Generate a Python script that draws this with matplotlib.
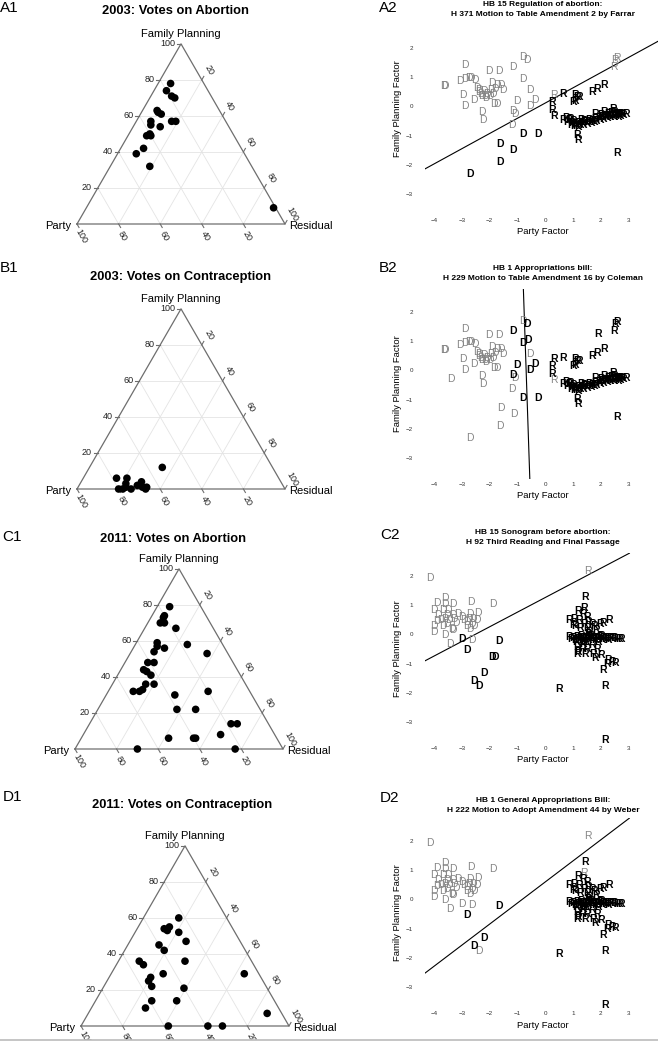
"""Ternary vote decomposition (left) and party / family-planning factor maps (right)."""
import numpy as np
import matplotlib
matplotlib.use("Agg")
import matplotlib.pyplot as plt
from matplotlib.lines import Line2D

plt.rcParams["font.family"] = ["Liberation Sans", "DejaVu Sans"]

FIG_W, FIG_H = 658, 1049
INK = "black"
GREY = "#858585"

# ---------------- ternary panels: (family planning, party, residual) in % ----------------
a1_fp    = [78, 74, 71, 70, 63, 62, 61, 57, 57, 57, 55, 54, 50, 49, 49, 42, 39, 32, 9]
a1_party = [16, 20, 19, 18, 30, 30, 29, 26, 24, 36, 37, 33, 40, 42, 40, 47, 52, 49, 1]
a1_res   = [6, 6, 10, 12, 7, 8, 10, 17, 19, 7, 8, 13, 10, 9, 11, 11, 9, 19, 90]

b1_fp    = [12, 6, 6, 3, 0, 0, 1, 0, 2, 4, 1, 0, 1]
b1_party = [53, 78, 73, 75, 80, 78, 76, 74, 70, 67, 68, 67, 66]
b1_res   = [35, 16, 21, 22, 20, 22, 23, 26, 28, 29, 31, 33, 33]

c1_fp    = [79, 74, 73, 70, 70, 67, 59, 57, 54, 56, 58, 53, 48, 48, 44, 43, 41,
            36, 36, 33, 32, 32, 30, 32, 22, 22, 14, 14, 8, 6, 6, 6, 0, 0]
c1_party = [15, 20, 21, 24, 22, 18, 31, 32, 35, 29, 17, 10, 38, 41, 45, 44, 43,
            48, 44, 51, 53, 56, 37, 20, 40, 31, 18, 15, 26, 52, 40, 39, 70, 23]
c1_res   = [6, 6, 6, 6, 8, 15, 10, 11, 11, 15, 25, 37, 14, 11, 11, 13, 16,
            16, 20, 16, 15, 12, 33, 48, 38, 47, 68, 71, 66, 42, 54, 55, 30, 77]

d1_fp    = [60, 55, 54, 53, 52, 47, 45, 42, 36, 36, 34, 29, 27, 25, 22, 21, 14, 14,
            10, 29, 7, 0, 0, 0]
d1_party = [23, 30, 33, 32, 27, 26, 40, 39, 32, 54, 53, 46, 53, 55, 55, 40, 59, 47,
            64, 7, 7, 58, 39, 32]
d1_res   = [17, 15, 13, 15, 21, 27, 15, 19, 32, 10, 13, 25, 20, 20, 23, 39, 27, 39,
            26, 64, 86, 42, 61, 68]

TERN_TICKS = [20, 40, 60, 80, 100]

# ---------------- 2003 legislators (party factor, family planning factor) ----------------
d03_x = [-2.89, -2.01, -1.65, -1.16, -0.79, -0.64, -0.79, -3.65, -3.60, -3.07,
         -2.89, -2.74, -2.68, -2.52, -1.93, -1.75, -1.61, -2.47, -2.40, -2.21,
         -2.09, -1.97, -1.89, -1.51, -2.28, -2.17, -2.98, -2.57, -2.89, -2.29,
         -2.23, -1.85, -1.03, -0.55, -0.38, -0.55, -1.15, -1.09, -1.21, -0.81,
         -0.25, -1.61, -1.14, -1.64, -2.71, -2.33, -2.12, -2.00, -1.80, -1.74,
         -2.40, -0.62, -3.41]
d03_y = [1.43, 1.22, 1.22, 1.35, 1.69, 1.58, 0.94, 0.71, 0.71, 0.86,
         0.94, 0.97, 0.96, 0.92, 0.80, 0.74, 0.74, 0.63, 0.55, 0.52,
         0.44, 0.55, 0.42, 0.55, 0.34, 0.37, 0.40, 0.21, 0.03, -0.20,
         -0.45, 0.09, 0.17, 0.55, 0.21, 0.03, -0.15, -0.26, -0.65, -0.95,
         -0.93, -1.29, -1.50, -1.92, -2.30, 0.42, 0.30, 0.36, 0.58, 0.09,
         0.48, 1.05, -0.29]
# k = voted with the bloc (black), g = grey, - = not shown
a2_d_col = "ggggggggggggggggggggggggggggggggggggggg" "kkkkkk" "gggggg" "--"
b2_d_col = "gggkgkk" "ggggggggggggggggggggggggg" "kgkkkggkk" "gggggggggg" "kg"

r03_x = [0.33, 0.66, 0.24, 0.24, 0.33, 1.08, 1.15, 1.24, 1.02, 1.08,
         1.69, 1.87, 2.14, 1.15, 1.17, 2.59, 2.51, 2.60, 2.49, 1.92]
r03_y = [0.39, 0.42, 0.16, -0.12, -0.33, 0.39, 0.33, 0.33, 0.16, 0.19,
         0.50, 0.59, 0.73, -0.98, -1.15, -1.61, 1.60, 1.66, 1.34, 1.25]
a2_r_col = "gkkkkkkkkkkkkkkkggg-"
b2_r_col = "kkkkgkkkkkkkkkkkkkkk"
# dense block of Republicans, black in both 2003 panels
r03_band_x = [0.64, 0.76, 0.88, 0.97, 1.08, 1.20, 1.33, 1.45, 1.56, 1.69, 1.81, 1.93,
              2.05, 2.17, 2.29, 2.41, 2.53, 2.65, 2.93, 1.81, 2.11, 2.44, 2.50, 2.75,
              0.90, 1.00, 1.05, 1.12, 1.18, 1.25, 1.30, 1.38, 1.50, 1.60, 1.65, 1.75,
              1.85, 1.98, 2.02, 2.10, 2.22, 2.26, 2.35, 2.38, 2.48, 2.58, 2.62, 2.70,
              2.80, 0.80, 0.95, 1.42]
r03_band_y = [-0.47, -0.41, -0.47, -0.56, -0.60, -0.58, -0.56, -0.55, -0.52, -0.49, -0.44, -0.41,
              -0.37, -0.35, -0.33, -0.32, -0.31, -0.29, -0.26, -0.26, -0.18, -0.09, -0.20, -0.25,
              -0.42, -0.50, -0.68, -0.66, -0.70, -0.64, -0.48, -0.62, -0.60, -0.45, -0.58, -0.52,
              -0.50, -0.48, -0.30, -0.42, -0.40, -0.25, -0.38, -0.22, -0.36, -0.26, -0.36, -0.33,
              -0.30, -0.55, -0.63, -0.50]

# ---------------- 2011 legislators ----------------
d11_x = [-4.16, -3.61, -3.89, -3.61, -3.34, -4.01, -3.86, -3.68, -3.49, -3.53,
         -3.61, -3.34, -3.13, -3.29, -3.01, -2.93, -2.83, -2.71, -2.74, -2.59,
         -2.41, -2.47, -2.65, -2.71, -2.83, -4.01, -4.01, -3.70, -3.55, -3.37,
         -3.31, -3.61, -3.43, -2.65, -2.66, -1.89, -3.74, -3.46, -3.01, -2.83,
         -1.67, -1.91, -1.79, -2.21, -2.56, -2.39, -3.20, -3.90, -2.55]
d11_y = [1.92, 1.26, 1.08, 1.03, 1.03, 0.83, 0.66, 0.85, 0.85, 0.66,
         0.54, 0.66, 0.69, 0.54, 0.60, 0.51, 0.43, 0.69, 0.53, 0.54,
         0.74, 0.51, 0.37, 0.20, 0.28, 0.28, 0.08, 0.28, 0.34, 0.20,
         0.14, -0.03, -0.32, -0.18, 1.11, 1.03, 0.48, 0.48, -0.15, -0.55,
         -0.23, -0.78, -0.78, -1.33, -1.61, -1.76, 0.40, 0.45, 0.30]
c2_d_col = "gggggggggggggggggggggggggggggggggggggg" "kkkkkkkk" "ggg"
d2_d_col = "gggggggggggggggggggggggggggggggggggggg" "gkk--kkg" "ggg"

r11_x = [1.54, 1.44, 1.40, 1.20, 1.36, 1.50, 0.86, 1.04, 1.23, 1.08,
         1.26, 1.40, 1.56, 1.68, 1.98, 2.08, 2.32, 1.84, 1.60, 1.76,
         1.52, 2.16, 0.51, 2.16, 1.14, 1.32, 1.50, 1.20, 1.44, 1.74,
         1.86, 1.14, 1.80, 2.00, 2.28, 2.40, 2.52, 2.22, 2.10, 1.38,
         1.68, 1.02]
r11_y = [2.17, 1.29, 0.92, 0.80, 0.69, 0.60, 0.51, 0.54, 0.48, 0.28,
         0.23, 0.37, 0.43, 0.37, 0.37, 0.39, 0.48, 0.14, 0.08, 0.28,
         0.23, -1.76, -1.87, -3.60, -0.44, -0.49, -0.49, -0.61, -0.67, -0.67,
         -0.49, -0.67, -0.80, -0.72, -0.87, -0.95, -0.99, -1.01, -1.21, -0.34,
         -0.38, 0.31]
c2_r_col = "gkkkkkkkkkkkkkkkkkkkkkkkkkkkkkkkkkkkkkkkkk"
d2_r_col = "gkgkkkkkkkkkkkkkkkkkkkkkkkkkkkkkkkkkkkkkkk"
r11_band_x = [0.87, 0.95, 1.02, 1.08, 1.15, 1.20, 1.26, 1.32, 1.38, 1.44, 1.50, 1.56, 1.62,
              1.68, 1.74, 1.80, 1.86, 1.92, 1.98, 2.04, 2.10, 2.16, 2.22, 2.28, 2.34, 2.42,
              2.50, 2.58, 2.66, 2.74, 1.10, 1.30, 1.48, 1.65, 1.90, 2.00, 1.55, 1.40]
r11_band_y = [-0.09, -0.15, -0.12, -0.18, -0.10, -0.16, -0.12, -0.19, -0.11, -0.16, -0.13, -0.20, -0.10,
              -0.16, -0.12, -0.19, -0.13, -0.16, -0.10, -0.18, -0.13, -0.16, -0.12, -0.18, -0.14, -0.16,
              -0.13, -0.17, -0.15, -0.16, -0.25, -0.05, -0.27, -0.04, -0.26, -0.05, 0.00, -0.25]

# cutting lines: (point, slope) or two points
a2_line = ((-4.33, -2.14), 0.52)
b2_line = ((-0.78, 2.72), (-0.55, -3.72))
c2_line = ((-4.36, -0.92), 0.50)
d2_line = ((-4.31, -2.51), 0.72)

fig = plt.figure(figsize=(FIG_W / 100, FIG_H / 100), dpi=100)


def px_axes(left, top, right, bottom):
    return fig.add_axes([left / FIG_W, 1 - bottom / FIG_H,
                         (right - left) / FIG_W, (bottom - top) / FIG_H])


def ftext(x, y, s, **kw):
    fig.text(x / FIG_W, 1 - y / FIG_H, s, **kw)


def ternary(lx, ly, fp, party, res, W=208):
    h = np.sqrt(3) / 2
    ml, mr, mt, mb = 90, 90, 40, 40
    ax = px_axes(lx - ml, ly - W * h - mt, lx + W + mr, ly + mb)
    ax.set_xlim(-ml / W, 1 + mr / W)
    ax.set_ylim(-mb / W, h + mt / W)
    ax.axis("off")
    u = 1 / W
    for v in TERN_TICKS[:-1]:
        t = v / 100
        kw = dict(color="#e4e4e4", lw=0.6, zorder=1)
        ax.plot([t / 2, 1 - t / 2], [t * h, t * h], **kw)
        ax.plot([1 - t, (1 - t) / 2], [0, (1 - t) * h], **kw)
        ax.plot([t, t + (1 - t) / 2], [0, (1 - t) * h], **kw)
    ax.plot([0, 1, 0.5, 0], [0, 0, h, 0], color="#6e6e6e", lw=0.9, zorder=2)
    tk = dict(color="#6e6e6e", lw=0.8, clip_on=False)
    lab = dict(fontsize=6.5, color="#222222")
    for v in TERN_TICKS:
        t = v / 100
        x, y = t / 2, t * h
        ax.plot([x, x - 4 * u], [y, y], **tk)
        ax.text(x - 6 * u, y, str(v), ha="right", va="center", **lab)
        x, y = t + (1 - t) / 2, (1 - t) * h
        ax.plot([x, x + 2 * u], [y, y + 3.5 * u], **tk)
        ax.text(x + 7 * u, y + 10 * u, str(v), ha="center", va="center",
                rotation=-60, **lab)
        x = 1 - t
        ax.plot([x, x + 2 * u], [0, -3.5 * u], **tk)
        ax.text(x + 4 * u, -12 * u, str(v), ha="center", va="center",
                rotation=-60, **lab)
    ax.text(0.5, h + 10 * u, "Family Planning", ha="center", va="center", fontsize=8)
    ax.text(-6 * u, -2 * u, "Party", ha="right", va="center", fontsize=8)
    ax.text(1 + 4 * u, -2 * u, "Residual", ha="left", va="center", fontsize=8)
    fp, res = np.asarray(fp, float), np.asarray(res, float)
    tot = fp + np.asarray(party, float) + res
    xs = res / tot + fp / tot / 2
    ys = fp / tot * h
    ax.scatter(xs, ys, s=30, color=INK, edgecolors="none", zorder=4, clip_on=False)


def letters(ax, xs, ys, ch, codes):
    for colour in ("g", "k"):
        for x, y, c in zip(xs, ys, codes):
            if c != colour:
                continue
            ax.text(x, y, ch, ha="center", va="center", fontsize=7.5,
                    color=INK if c == "k" else GREY,
                    fontweight="bold" if c == "k" else "normal", zorder=3)


def factor_panel(y2, line, groups, ylab_y):
    # y2 = pixel row of the "2" tick; 27.73 px per x unit, 29.2 px per y unit
    top, bottom = y2 - 0.78 * 29.2, y2 + 5.72 * 29.2
    ax = px_axes(425, top, 425 + 8.73 * 27.73, bottom)
    ax.set_xlim(-4.33, 4.40)
    ax.set_ylim(-3.72, 2.78)
    for s in ax.spines.values():
        s.set_visible(False)
    ax.set_xticks(range(-4, 4))
    ax.set_yticks(range(-3, 3))
    ax.tick_params(length=0, labelsize=4.5, colors="#333333")
    ax.tick_params(axis="x", pad=2.5)
    ax.tick_params(axis="y", pad=8.5)
    p0, p1 = line
    if isinstance(p1, tuple):
        ax.axline(p0, p1, color=INK, lw=0.8, zorder=2)
    else:
        ax.axline(p0, slope=p1, color=INK, lw=0.8, zorder=2)
    for xs, ys, ch, codes in groups:
        letters(ax, xs, ys, ch, codes)
    ftext(543, y2 + 184, "Party Factor", ha="center", va="center", fontsize=6.8)
    ftext(397, ylab_y, "Family Planning Factor", ha="center", va="center",
          rotation=90, fontsize=6.8)
    return ax


# ---------------- left column ----------------
ternary(77, 224, a1_fp, a1_party, a1_res)
ternary(77, 489, b1_fp, b1_party, b1_res)
ternary(75, 749, c1_fp, c1_party, c1_res)
ternary(81, 1026, d1_fp, d1_party, d1_res)

for lbl, x, y in [("A1", 0, 8), ("B1", 0, 268), ("C1", 2, 537), ("D1", 3, 797),
                  ("A2", 379, 8), ("B2", 379, 268), ("C2", 380, 535), ("D2", 380, 798)]:
    ftext(x, y, lbl, ha="left", va="center", fontsize=11)

ttl = dict(ha="center", va="center", fontsize=9.3, fontweight="bold")
ftext(175, 11, "2003: Votes on Abortion", **ttl)
ftext(180, 277, "2003: Votes on Contraception", **ttl)
ftext(173, 539, "2011: Votes on Abortion", **ttl)
ftext(182, 805, "2011: Votes on Contraception", **ttl)

# ---------------- right column ----------------
band03 = (r03_band_x, r03_band_y, "R", "k" * len(r03_band_x))
band11 = (r11_band_x, r11_band_y, "R", "k" * len(r11_band_x))

factor_panel(48, a2_line, [(d03_x, d03_y, "D", a2_d_col), (r03_x, r03_y, "R", a2_r_col), band03], 109)
factor_panel(312, b2_line, [(d03_x, d03_y, "D", b2_d_col), (r03_x, r03_y, "R", b2_r_col), band03], 384)
factor_panel(576, c2_line, [(d11_x, d11_y, "D", c2_d_col), (r11_x, r11_y, "R", c2_r_col), band11], 649)
factor_panel(841, d2_line, [(d11_x, d11_y, "D", d2_d_col), (r11_x, r11_y, "R", d2_r_col), band11], 913)

st = dict(ha="center", va="center", fontsize=6, fontweight="bold")
for (l1, l2), y in [(("HB 15 Regulation of abortion:",
                      "H 371 Motion to Table Amendment 2 by Farrar"), 5),
                    (("HB 1 Appropriations bill:",
                      "H 229 Motion to Table Amendment 16 by Coleman"), 269),
                    (("HB 15 Sonogram before abortion:",
                      "H 92 Third Reading and Final Passage"), 533),
                    (("HB 1 General Appropriations Bill:",
                      "H 222 Motion to Adopt Amendment 44 by Weber"), 800)]:
    ftext(543, y, l1, **st)
    ftext(543, y + 10, l2, **st)

# page edge at the bottom
fig.add_artist(plt.Rectangle((0, 0), 1, 9 / FIG_H, transform=fig.transFigure,
                             facecolor="white", edgecolor="none", zorder=20))
fig.add_artist(Line2D([0, 1], [9 / FIG_H, 9 / FIG_H], transform=fig.transFigure,
                      color="#bbbbbb", lw=1.2, zorder=21))

fig.savefig("out.png", dpi=100)
